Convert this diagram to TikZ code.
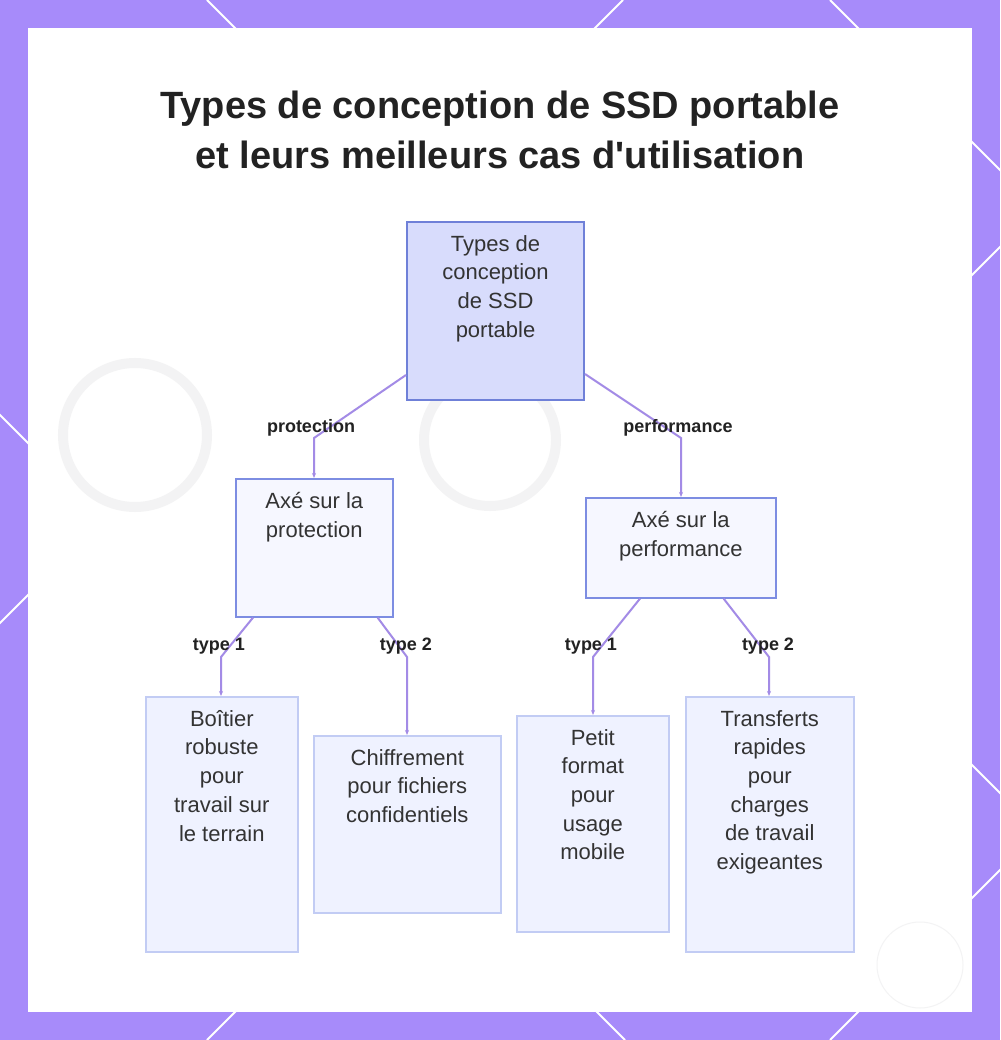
\documentclass[tikz,border=0pt]{standalone}
\usepackage{fontspec}
\setmainfont{Liberation Sans}[Ligatures=TeXOff]
\usetikzlibrary{arrows.meta,calc}
\definecolor{framec}{HTML}{A78BFA}
\definecolor{rootfill}{HTML}{D8DCFC}
\definecolor{rootdraw}{HTML}{6F80D8}
\definecolor{midfill}{HTML}{F6F7FF}
\definecolor{middraw}{HTML}{7D8DE2}
\definecolor{leaffill}{HTML}{EFF2FF}
\definecolor{leafdraw}{HTML}{C2CCF4}
\definecolor{edgec}{HTML}{A38BE6}
\definecolor{ink}{HTML}{222222}
\definecolor{bodyink}{HTML}{333333}
\definecolor{faint}{HTML}{F3F3F4}
\begin{document}
\begin{tikzpicture}[x=1pt,y=-1pt,
  lattice/.style={white,line width=2pt},
  boxbase/.style={rectangle,anchor=north west,inner sep=0pt},
  rootbox/.style={boxbase,fill=rootfill,draw=rootdraw,line width=2pt},
  midbox/.style={boxbase,fill=midfill,draw=middraw,line width=1.6pt},
  leafbox/.style={boxbase,fill=leaffill,draw=leafdraw,line width=1.6pt},
  txt/.style={anchor=north,inner sep=0pt,align=center,text=bodyink,font=\fontsize{22}{28.7}\selectfont},
  titletxt/.style={align=center,text=ink,inner sep=0pt,font=\fontsize{38}{50}\selectfont\bfseries},
  elabel/.style={text=ink,inner sep=0pt,font=\fontsize{18}{20}\selectfont\bfseries},
  edge/.style={draw=edgec,line width=2pt,-{Stealth[length=5pt,width=4pt]}}]
\useasboundingbox (0,0) rectangle (1000,1040);
\fill[framec] (0,0) rectangle (1000,1040);
\begin{scope}
\clip (0,0) rectangle (1000,1040);
\foreach \c in {-415,207,830} \draw[lattice] (\c,0) -- (\c+1040,1040);
\foreach \c in {623,1247,1870} \draw[lattice] (\c,0) -- (\c-1040,1040);
\end{scope}
\fill[white] (28,28) rectangle (972,1012);
% faint background shapes
\draw[faint,line width=10pt] (135,435) circle (72);
\draw[faint,line width=10pt] (490,440) circle (66);
\draw[faint,line width=1pt] (920,965) circle (43);

\node[titletxt] (title) at (500,130) {Types de conception de SSD portable\\et leurs meilleurs cas d'utilisation};

% boxes
\node[rootbox,minimum width=177pt,minimum height=178pt] (root) at (406,221) {};
\node[txt] (roott) at ($(root.north)+(0,14)$) {Types de\\conception\\de SSD\\portable};

\node[midbox,minimum width=157pt,minimum height=138pt] (lm) at (235,478) {};
\node[txt] (lmt) at ($(lm.north)+(0,14)$) {Axé sur la\\protection};

\node[midbox,minimum width=190pt,minimum height=100pt] (rm) at (585,497) {};
\node[txt] (rmt) at ($(rm.north)+(0,14)$) {Axé sur la\\performance};

\node[leafbox,minimum width=152pt,minimum height=255pt] (l1) at (145,696) {};
\node[txt] (l1t) at ($(l1.north)+(0,14)$) {Boîtier\\robuste\\pour\\travail sur\\le terrain};

\node[leafbox,minimum width=187pt,minimum height=177pt] (l2) at (313,735) {};
\node[txt] (l2t) at ($(l2.north)+(0,14)$) {Chiffrement\\pour fichiers\\confidentiels};

\node[leafbox,minimum width=152pt,minimum height=216pt] (l3) at (516,715) {};
\node[txt] (l3t) at ($(l3.north)+(0,14)$) {Petit\\format\\pour\\usage\\mobile};

\node[leafbox,minimum width=168pt,minimum height=255pt] (l4) at (685,696) {};
\node[txt] (l4t) at ($(l4.north)+(0,14)$) {Transferts\\rapides\\pour\\charges\\de travail\\exigeantes};

% bend points
\coordinate (b1) at (314,438);
\coordinate (b2) at (681,438);
\coordinate (b3) at (221,657);
\coordinate (b4) at (407,657);
\coordinate (b5) at (593,657);
\coordinate (b6) at (769,657);

% connectors
\draw[edge] ([yshift=26pt]root.south west) -- (b1) -- (b1 |- lm.north);
\draw[edge] ([yshift=27pt]root.south east) -- (b2) -- (b2 |- rm.north);
\draw[edge] ([xshift=18pt]lm.south west) -- (b3) -- (b3 |- l1.north);
\draw[edge] ([xshift=-16pt]lm.south east) -- (b4) -- (b4 |- l2.north);
\draw[edge] ([xshift=55pt]rm.south west) -- (b5) -- (b5 |- l3.north);
\draw[edge] ([xshift=-53pt]rm.south east) -- (b6) -- (b6 |- l4.north);

% labels
\node[elabel] (e1) at (311,428) {protection};
\node[elabel] (e2) at (678,428) {performance};
\node[elabel] (e3) at (219,646) {type 1};
\node[elabel] (e4) at (406,646) {type 2};
\node[elabel] (e5) at (591,646) {type 1};
\node[elabel] (e6) at (768,646) {type 2};
\end{tikzpicture}
\end{document}
